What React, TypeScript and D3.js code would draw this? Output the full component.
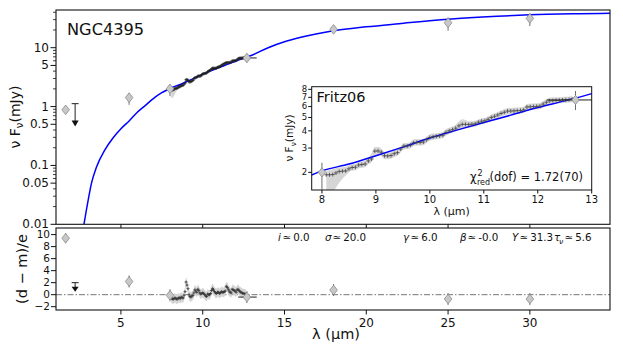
import React from 'react';
import * as d3 from 'd3';

const W = 623, H = 346;
const FONT = 'DejaVu Sans, Verdana, sans-serif';

// ---- model SED ----
const modelLam = [2.74, 3.0, 3.2, 3.5, 4.0, 4.5, 5.0, 5.5, 6.0, 6.5, 7.0, 7.5, 7.8, 8.0, 8.5, 9.0, 9.5, 10, 10.5, 11, 11.5, 12, 12.5, 13, 14, 15, 16, 17, 18, 20, 22, 25, 28, 30, 33, 35];
const modelFlux = [0.01, 0.026, 0.05, 0.093, 0.18, 0.29, 0.42, 0.57, 0.8, 1.05, 1.38, 1.72, 1.91, 2.05, 2.3, 2.64, 3.05, 3.55, 4.05, 4.6, 5.2, 5.9, 6.6, 7.45, 10.0, 12.6, 15.0, 17.3, 19.4, 22.6, 25.6, 30.5, 34.2, 36.2, 37.8, 38.5];

// ---- spectrum (Fritz06) ----
const specLam = [8.08, 8.14, 8.20, 8.26, 8.32, 8.38, 8.44, 8.50, 8.56, 8.62, 8.68, 8.74, 8.80, 8.86, 8.92, 8.98, 9.04, 9.10, 9.16, 9.22, 9.28, 9.34, 9.40, 9.46, 9.52, 9.58, 9.64, 9.70, 9.76, 9.82, 9.88, 9.94, 10.00, 10.06, 10.12, 10.18, 10.24, 10.30, 10.36, 10.42, 10.48, 10.54, 10.60, 10.66, 10.72, 10.78, 10.84, 10.90, 10.96, 11.02, 11.08, 11.14, 11.20, 11.26, 11.32, 11.38, 11.44, 11.50, 11.56, 11.62, 11.68, 11.74, 11.80, 11.86, 11.92, 11.98, 12.04, 12.10, 12.16, 12.22, 12.28, 12.34, 12.40, 12.46, 12.52, 12.58, 12.64];
const specFlux = [1.92, 1.92, 1.93, 1.98, 2.03, 2.04, 2.05, 2.12, 2.17, 2.18, 2.26, 2.28, 2.30, 2.42, 2.50, 2.85, 2.86, 2.80, 2.64, 2.63, 2.65, 2.73, 2.78, 2.95, 3.10, 3.10, 3.15, 3.28, 3.30, 3.30, 3.32, 3.45, 3.58, 3.62, 3.65, 3.68, 3.72, 3.90, 4.00, 4.08, 4.18, 4.35, 4.46, 4.46, 4.45, 4.47, 4.50, 4.62, 4.70, 4.73, 4.85, 5.00, 5.10, 5.22, 5.35, 5.45, 5.56, 5.57, 5.58, 5.60, 5.62, 5.68, 5.95, 5.98, 6.00, 6.02, 6.05, 6.25, 6.45, 6.60, 6.62, 6.65, 6.66, 6.70, 6.72, 6.75, 6.80];
const specLo = [1.40, 1.40, 1.45, 1.55, 1.68, 1.80, 1.90, 2.00, 2.06, 2.07, 2.14, 2.16, 2.18, 2.29, 2.36, 2.66, 2.68, 2.62, 2.50, 2.49, 2.51, 2.59, 2.64, 2.80, 2.94, 2.94, 2.99, 3.11, 3.13, 3.13, 3.15, 3.27, 3.40, 3.44, 3.47, 3.50, 3.53, 3.70, 3.80, 3.87, 3.97, 4.10, 4.20, 4.22, 4.22, 4.25, 4.28, 4.39, 4.47, 4.50, 4.61, 4.75, 4.85, 4.96, 5.08, 5.18, 5.28, 5.29, 5.30, 5.32, 5.34, 5.40, 5.65, 5.68, 5.70, 5.72, 5.75, 5.94, 6.13, 6.27, 6.29, 6.32, 6.33, 6.37, 6.38, 6.41, 6.46];
const specHi = [2.05, 2.08, 2.10, 2.14, 2.17, 2.18, 2.20, 2.25, 2.29, 2.30, 2.38, 2.40, 2.43, 2.56, 2.75, 3.05, 3.06, 2.98, 2.80, 2.78, 2.80, 2.88, 2.93, 3.11, 3.27, 3.27, 3.32, 3.46, 3.48, 3.48, 3.50, 3.64, 3.78, 3.82, 3.85, 3.88, 3.92, 4.12, 4.22, 4.30, 4.45, 4.70, 4.85, 4.80, 4.70, 4.70, 4.73, 4.86, 4.94, 4.97, 5.10, 5.26, 5.37, 5.49, 5.63, 5.74, 5.86, 5.87, 5.88, 5.90, 5.92, 5.98, 6.27, 6.30, 6.32, 6.34, 6.37, 6.58, 6.79, 6.95, 6.97, 7.00, 7.01, 7.05, 7.08, 7.11, 7.16];
const specRes = [-0.6, -0.7, -0.75, -0.6, -0.55, -0.7, -0.75, -0.6, -0.5, -0.65, -0.4, -0.5, -0.55, -0.1, 0.5, 2.1, 1.6, 1.0, 0.0, -0.3, -0.4, -0.2, -0.1, 0.3, 0.8, 0.6, 0.4, 0.9, 0.7, 0.3, 0.1, 0.2, 0.3, 0.2, 0.0, -0.2, -0.3, 0.1, 0.0, 0.0, 0.2, 0.7, 1.0, 0.8, 0.5, 0.3, 0.2, 0.4, 0.4, 0.2, 0.3, 0.5, 0.4, 0.4, 0.5, 0.6, 1.4, 1.2, 0.9, 0.6, 0.4, 0.3, 0.9, 0.8, 0.7, 0.6, 0.4, 0.8, 0.9, 0.7, 0.5, 0.4, 0.3, 0.2, 0.2, 0.1, 0.1];
const RES_BAND = 0.8;

// ---- photometry ----
const photLam = [1.62, 5.5, 8.0, 12.7, 18.0, 25.0, 30.0];
const photFlux = [0.88, 1.42, 2.0, 6.7, 20.5, 26.5, 31.5];
const photLo = [0.86, 1.07, 1.5, 5.66, 18.3, 19.4, 23.3];
const photHi = [0.90, 1.70, 2.35, 7.78, 23.0, 32.7, 38.3];
const photXLo = [1.62, 5.5, 8.0, 12.17, 18.0, 25.0, 30.0];
const photXHi = [1.62, 5.5, 8.0, 13.3, 18.0, 25.0, 30.0];
const photRes = [9.4, 2.2, -0.1, -0.4, 0.78, -0.72, -0.72];
const photResErr = [0.85, 1.0, 1.0, 1.0, 1.0, 1.0, 1.0];

// upper limit
const ulLam = [2.2];
const ulFlux = [1.12];
const ulTip = [0.46];
const ulRes = [2.0];
const ulResTip = [0.5];

// ticks
const mainYTicks = [0.01, 0.05, 0.1, 0.5, 1, 5, 10];
const mainYLabels = ['0.01', '0.05', '0.1', '0.5', '1', '5', '10'];
const xTicks = [5, 10, 15, 20, 25, 30];
const resTicks = [10, 8, 6, 4, 2, 0, -2];
const insetXTicks = [8, 9, 10, 11, 12, 13];
const insetYTicks = [2, 3, 4, 5, 6, 7, 8];

const params = [
  { sym: 'i', rest: '≃\u20090.0', x: 278 },
  { sym: 'σ', rest: '≃\u200920.0', x: 325 },
  { sym: 'γ', rest: '≃\u20096.0', x: 403 },
  { sym: 'β', rest: '≃\u2009-0.0', x: 460 },
  { sym: 'Y', rest: '≃\u200931.3', x: 512 },
  { sym: 'τ', sub: 'ν', rest: '≃\u20095.6', x: 554 },
];

// layout
const L = 56, R = 610, T1 = 10, B1 = 224.3, T2 = 228, B2 = 310;
const IL = 311.7, IR = 591.7, IT = 86.7, IB = 190;

const x = d3.scaleLinear().domain([1.03, 34.9]).range([L, R]);
const y = d3.scaleLog().domain([0.01, 43.7]).range([B1, T1]);
const yr = d3.scaleLinear().domain([-2.55, 11.1]).range([B2, T2]);
const xi = d3.scaleLinear().domain([7.81, 13]).range([IL, IR]);
const yi = d3.scaleLog().domain([1.49, 8.36]).range([IB, IT]);

const diamond = (cx: number, cy: number, w = 3.8, h = 4.8) =>
  `M${cx},${cy - h}L${cx + w},${cy}L${cx},${cy + h}L${cx - w},${cy}Z`;

function Plus({ cx, cy, s, color }: { cx: number; cy: number; s: number; color: string }) {
  return (
    <g stroke={color} strokeWidth={0.8}>
      <line x1={cx - s} x2={cx + s} y1={cy} y2={cy} />
      <line x1={cx} x2={cx} y1={cy - s} y2={cy + s} />
    </g>
  );
}

export default function App() {
  const modelIdx = modelLam.map((_, i) => i);
  const specIdx = specLam.map((_, i) => i);

  const lineMain = d3.line<number>().x(i => x(modelLam[i])).y(i => y(modelFlux[i])).curve(d3.curveMonotoneX);
  const lineInset = d3.line<number>().x(i => xi(modelLam[i])).y(i => yi(modelFlux[i])).curve(d3.curveMonotoneX);
  const bandMain = d3.area<number>().x(i => x(specLam[i])).y0(i => y(specLo[i])).y1(i => y(specHi[i])).curve(d3.curveMonotoneX);
  const bandInset = d3.area<number>().x(i => xi(specLam[i])).y0(i => yi(specLo[i])).y1(i => yi(specHi[i])).curve(d3.curveMonotoneX);
  const bandRes = d3.area<number>().x(i => x(specLam[i])).y0(i => yr(specRes[i] - RES_BAND)).y1(i => yr(specRes[i] + RES_BAND)).curve(d3.curveMonotoneX);

  const minorMain = y.ticks().filter(t => !mainYTicks.some(m => Math.abs(m - t) / t < 1e-6));
  const errColor = '#6e6e6e';
  const dFill = '#c8c8c8';
  const dStroke = '#8a8a8a';
  const PF = 10.3;

  return (
    <svg width={W} height={H} style={{ position: 'absolute', left: 0, top: 0, background: '#fff' }} fontFamily={FONT}>
      <defs>
        <clipPath id="cpMain"><rect x={L} y={T1} width={R - L} height={B1 - T1} /></clipPath>
        <clipPath id="cpRes"><rect x={L} y={T2} width={R - L} height={B2 - T2} /></clipPath>
        <clipPath id="cpIn"><rect x={IL} y={IT} width={IR - IL} height={IB - IT} /></clipPath>
      </defs>
      <rect x={0} y={0} width={W} height={H} fill="#fff" />

      {/* ===== main panel ===== */}
      <g clipPath="url(#cpMain)">
        <path d={bandMain(specIdx) || ''} fill="#d4d4d4" />
        <path d={lineMain(modelIdx) || ''} fill="none" stroke="#0000ff" strokeWidth={1.5} />
        {specIdx.map(i => (
          <Plus key={i} cx={x(specLam[i])} cy={y(specFlux[i])} s={1.6} color="#222" />
        ))}
        {photLam.map((l, i) => (
          <g key={i}>
            <line x1={x(l)} x2={x(l)} y1={y(photLo[i])} y2={y(photHi[i])} stroke={errColor} strokeWidth={1} />
            {photXHi[i] > photXLo[i] && (
              <line x1={x(photXLo[i])} x2={x(photXHi[i])} y1={y(photFlux[i])} y2={y(photFlux[i])} stroke="#222" strokeWidth={1} />
            )}
            <path d={diamond(x(l), y(photFlux[i]))} fill={dFill} stroke={dStroke} strokeWidth={0.8} />
          </g>
        ))}
        {ulLam.map((l, i) => {
          const cx = x(l), top = y(ulFlux[i]), tip = y(ulTip[i]);
          return (
            <g key={i}>
              <line x1={cx - 3.5} x2={cx + 3.5} y1={top} y2={top} stroke="#222" strokeWidth={1} />
              <line x1={cx} x2={cx} y1={top} y2={tip - 5} stroke="#222" strokeWidth={1} />
              <path d={`M${cx - 3.5},${tip - 6}L${cx + 3.5},${tip - 6}L${cx},${tip}Z`} fill="#111" />
            </g>
          );
        })}
      </g>
      {/* main axes */}
      <rect x={L} y={T1} width={R - L} height={B1 - T1} fill="none" stroke="#111" strokeWidth={1.1} />
      {minorMain.map((t, i) => (
        <line key={i} x1={L - 3} x2={L} y1={y(t)} y2={y(t)} stroke="#111" strokeWidth={0.8} />
      ))}
      {mainYTicks.map((t, i) => (
        <g key={i}>
          <line x1={L - 5.5} x2={L} y1={y(t)} y2={y(t)} stroke="#111" strokeWidth={1} />
          <text x={L - 7} y={y(t)} dy="0.33em" textAnchor="end" fontSize={12} fill="#111">{mainYLabels[i]}</text>
        </g>
      ))}
      {xTicks.map((t, i) => (
        <line key={i} x1={x(t)} x2={x(t)} y1={B1} y2={B1 + 3.7} stroke="#111" strokeWidth={1} />
      ))}
      <text x={67} y={35} fontSize={16.2} fill="#111">NGC4395</text>
      <text transform={`translate(20,117) rotate(-90)`} textAnchor="middle" fontSize={14} fill="#111">
        ν F<tspan fontSize={10} dy={3}>ν</tspan><tspan dy={-3}>(mJy)</tspan>
      </text>

      {/* ===== inset ===== */}
      <rect x={IL} y={IT} width={IR - IL} height={IB - IT} fill="#fff" />
      <g clipPath="url(#cpIn)">
        <path d={bandInset(specIdx) || ''} fill="#d6d6d6" />
        <path d={lineInset(modelIdx) || ''} fill="none" stroke="#0000ff" strokeWidth={1.5} />
        {specIdx.map(i => (
          <Plus key={i} cx={xi(specLam[i])} cy={yi(specFlux[i])} s={2} color="#444" />
        ))}
        {photLam.map((l, i) => (
          <g key={i}>
            <line x1={xi(l)} x2={xi(l)} y1={yi(photLo[i])} y2={yi(photHi[i])} stroke={errColor} strokeWidth={1} />
            {photXHi[i] > photXLo[i] && (
              <line x1={xi(photXLo[i])} x2={xi(photXHi[i])} y1={yi(photFlux[i])} y2={yi(photFlux[i])} stroke="#222" strokeWidth={1} />
            )}
            <path d={diamond(xi(l), yi(photFlux[i]), 3.8, 4.6)} fill={dFill} stroke={dStroke} strokeWidth={0.8} />
          </g>
        ))}
      </g>
      <rect x={IL} y={IT} width={IR - IL} height={IB - IT} fill="none" stroke="#111" strokeWidth={1} />
      {insetXTicks.map((t, i) => (
        <g key={i}>
          <line x1={xi(t)} x2={xi(t)} y1={IB} y2={IB + 3.5} stroke="#111" strokeWidth={1} />
          <text x={xi(t)} y={IB + 12.5} textAnchor="middle" fontSize={10} fill="#111">{t}</text>
        </g>
      ))}
      {insetYTicks.map((t, i) => (
        <g key={i}>
          <line x1={IL - 3.5} x2={IL} y1={yi(t)} y2={yi(t)} stroke="#111" strokeWidth={1} />
          <text x={IL - 4.5} y={yi(t)} dy="0.34em" textAnchor="end" fontSize={8.5} fill="#111">{t}</text>
        </g>
      ))}
      <text x={316.5} y={102} fontSize={14.5} fill="#111">Fritz06</text>
      <text x={(IL + IR) / 2} y={215} textAnchor="middle" fontSize={11} fill="#111">λ (μm)</text>
      <text transform={`translate(293,138) rotate(-90)`} textAnchor="middle" fontSize={10.5} fill="#111">
        ν F<tspan fontSize={7.5} dy={2.5}>ν</tspan><tspan dy={-2.5}>(mJy)</tspan>
      </text>
      <g fill="#111">
        <text x={470} y={181} fontSize={11.5}>χ</text>
        <text x={477.5} y={176} fontSize={8}>2</text>
        <text x={477} y={184.5} fontSize={8}>red</text>
        <text x={489.5} y={181} fontSize={11.5}>(dof) = 1.72(70)</text>
      </g>

      {/* ===== residual panel ===== */}
      <g clipPath="url(#cpRes)">
        <line x1={L} x2={R} y1={yr(0)} y2={yr(0)} stroke="#777" strokeWidth={1} strokeDasharray="6,2,1.5,2" />
        <path d={bandRes(specIdx) || ''} fill="#d4d4d4" />
        {specIdx.map(i => (
          <Plus key={i} cx={x(specLam[i])} cy={yr(specRes[i])} s={1.5} color="#333" />
        ))}
        {photLam.map((l, i) => (
          <g key={i}>
            <line x1={x(l)} x2={x(l)} y1={yr(photRes[i] - photResErr[i])} y2={yr(photRes[i] + photResErr[i])} stroke={errColor} strokeWidth={1} />
            {photXHi[i] > photXLo[i] && (
              <line x1={x(photXLo[i])} x2={x(photXHi[i])} y1={yr(photRes[i])} y2={yr(photRes[i])} stroke="#222" strokeWidth={1} />
            )}
            <path d={diamond(x(l), yr(photRes[i]))} fill={dFill} stroke={dStroke} strokeWidth={0.8} />
          </g>
        ))}
        {ulLam.map((l, i) => {
          const cx = x(l), top = yr(ulRes[i]), tip = yr(ulResTip[i]);
          return (
            <g key={i}>
              <line x1={cx - 3.5} x2={cx + 3.5} y1={top} y2={top} stroke="#222" strokeWidth={1} />
              <line x1={cx} x2={cx} y1={top} y2={tip - 4} stroke="#222" strokeWidth={1} />
              <path d={`M${cx - 3.5},${tip - 5}L${cx + 3.5},${tip - 5}L${cx},${tip}Z`} fill="#111" />
            </g>
          );
        })}
      </g>
      <rect x={L} y={T2} width={R - L} height={B2 - T2} fill="none" stroke="#111" strokeWidth={1.1} />
      {resTicks.map((t, i) => (
        <g key={i}>
          <line x1={L - 5} x2={L} y1={yr(t)} y2={yr(t)} stroke="#111" strokeWidth={1} />
          <text x={L - 6} y={yr(t)} dy="0.36em" textAnchor="end" fontSize={10.5} fill="#111">{t < 0 ? '−' + Math.abs(t) : t}</text>
        </g>
      ))}
      {xTicks.map((t, i) => (
        <g key={i}>
          <line x1={x(t)} x2={x(t)} y1={B2} y2={B2 + 4.5} stroke="#111" strokeWidth={1} />
          <text x={x(t)} y={B2 + 16.5} textAnchor="middle" fontSize={12} fill="#111">{t}</text>
        </g>
      ))}
      <text transform={`translate(27,269) rotate(-90)`} textAnchor="middle" fontSize={14.5} fill="#111">(d − m)/e</text>
      <text x={336} y={339} textAnchor="middle" fontSize={14.5} fill="#111">λ (μm)</text>
      {params.map((p, i) => (
        <g key={i} fill="#111" fontSize={PF}>
          <text x={p.x} y={241} fontStyle="italic">{p.sym}</text>
          {p.sub && <text x={p.x + 5} y={243.5} fontStyle="italic" fontSize={7.5}>{p.sub}</text>}
          <text x={p.x + (p.sub ? 10.5 : p.sym === 'i' ? 4.5 : 7.5)} y={241}>{p.rest}</text>
        </g>
      ))}
    </svg>
  );
}
